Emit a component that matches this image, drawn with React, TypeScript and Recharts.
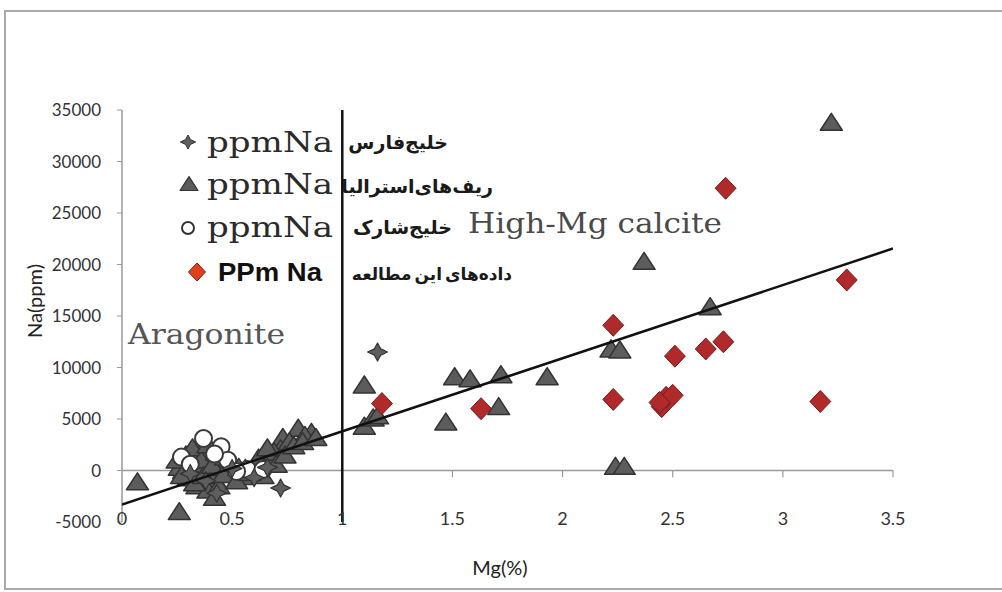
import React from 'react'
import { ScatterChart, Scatter, XAxis, YAxis, ReferenceLine } from 'recharts'

// Persian Gulf (خلیج فارس)
const gulfMg = [1.16, 0.72, 0.43, 0.38, 0.6, 0.66, 0.5, 0.31]
const gulfNa = [11500, -1700, -2200, -1000, -700, 300, 200, -300]

// Australian reefs (ریف های استرالیا)
const reefMg = [
  3.22, 2.37, 2.67, 2.22, 2.26, 2.24, 2.28, 1.93, 1.72, 1.71, 1.51, 1.58, 1.47,
  1.1, 1.1, 1.14, 1.16, 0.07, 0.26, 0.8, 0.86, 0.73, 0.72, 0.67, 0.63, 0.76, 0.83,
  0.28, 0.3, 0.33, 0.35, 0.38, 0.4, 0.42, 0.45, 0.3, 0.26, 0.36, 0.48, 0.5, 0.55,
  0.6, 0.64, 0.68, 0.34, 0.39, 0.44,
  0.25, 0.27, 0.29, 0.32, 0.33, 0.36, 0.37, 0.39, 0.41, 0.43, 0.44, 0.46, 0.47, 0.49,
  0.52, 0.53, 0.56, 0.58, 0.62, 0.69, 0.7, 0.74, 0.78, 0.82, 0.88, 0.66, 0.42,
]
const reefNa = [
  33800, 20300, 15900, 11800, 11700, 400, 400, 9100, 9300, 6200, 9100, 8900, 4700,
  8300, 4300, 5100, 5300, -1100, -4000, 4100, 3700, 3200, 2100, 1300, 800, 2800, 3400,
  0, 500, 1000, -300, 600, 1500, -800, 300, -700, 300, 2000, -300, 400, -600,
  500, -500, 700, -1500, -1900, 1200,
  1000, -500, 1500, 2200, -1200, 1000, -500, 2500, 500, 1800, -1500, -400, 1300, 700,
  -1000, 300, 200, -200, 1200, 1800, 600, 1500, 2400, 2800, 3200, 2200, -2600,
]

// Shark Bay (خلیج شارک)
const sharkMg = [0.37, 0.27, 0.45, 0.48, 0.57, 0.64, 0.31, 0.42, 0.52]
const sharkNa = [3100, 1300, 2300, 1000, 100, 100, 600, 1600, -100]

// this study (داده های این مطالعه)
const studyMg = [2.74, 3.29, 2.23, 2.51, 2.65, 2.73, 2.23, 2.45, 2.47, 2.5, 2.44, 3.17, 1.18, 1.63]
const studyNa = [27400, 18500, 14100, 11100, 11800, 12500, 6900, 6200, 7100, 7300, 6600, 6700, 6500, 6000]

// linear trend
const trendMg = [0, 3.5]
const trendNa = [-3300, 21550]

const xTicks = [0, 0.5, 1, 1.5, 2, 2.5, 3, 3.5]
const yTicks = [-5000, 0, 5000, 10000, 15000, 20000, 25000, 30000, 35000]

const toPoints = (xs: number[], ys: number[]) => xs.map((x, i) => ({ x, y: ys[i] }))

const tickFont = 'Lato, "DejaVu Sans Condensed", sans-serif'
const serif = '"DejaVu Serif", "Liberation Serif", serif'
const persian = '"DejaVu Sans", "Noto Sans", sans-serif'

const triPath = (cx: number, cy: number, s: number) =>
  `M${cx},${cy - s * 0.82} L${cx + s},${cy + s * 0.72} L${cx - s},${cy + s * 0.72} Z`
const starPath = (cx: number, cy: number, s: number) =>
  `M${cx},${cy - s} L${cx + s * 0.35},${cy - s * 0.35} L${cx + s * 1.1},${cy} L${cx + s * 0.35},${cy + s * 0.35} L${cx},${cy + s} L${cx - s * 0.35},${cy + s * 0.35} L${cx - s * 1.1},${cy} L${cx - s * 0.35},${cy - s * 0.35} Z`
const diamondPath = (cx: number, cy: number, s: number) =>
  `M${cx},${cy - s} L${cx + s * 0.95},${cy} L${cx},${cy + s} L${cx - s * 0.95},${cy} Z`

const Triangle = (p: any) => (
  <path d={triPath(p.cx, p.cy, 11)} fill="#5c5c5c" stroke="#333" strokeWidth={1.5} strokeLinejoin="round" />
)
const Star = (p: any) => (
  <path d={starPath(p.cx, p.cy, 9)} fill="#5e5e5e" stroke="#333" strokeWidth={1.2} strokeLinejoin="round" />
)
const Ring = (p: any) => <circle cx={p.cx} cy={p.cy} r={8.5} fill="#fff" stroke="#3a3a3a" strokeWidth={2} />
const Diamond = (p: any) => (
  <path d={diamondPath(p.cx, p.cy, 11)} fill="#b0292b" stroke="#7a1b1b" strokeWidth={1} />
)

const XTick = (p: any) => (
  <text x={p.x} y={p.y - 4} textAnchor="middle" dominantBaseline="central" fontSize={18} fill="#333" fontFamily={tickFont}>
    {p.payload.value}
  </text>
)

const App = () => {
  return (
    <div style={{ position: 'absolute', left: 0, top: 0, width: 1002, height: 592, overflow: 'hidden', background: '#fff' }}>
      <div style={{ position: 'absolute', left: 4, top: 10, width: 1100, height: 576, border: '2px solid #a9a9a9' }} />
      <div style={{ position: 'absolute', left: 0, top: 0 }}>
        <ScatterChart width={1002} height={592} margin={{ top: 110, right: 109, bottom: 40, left: 0 }}>
          <XAxis
            type="number"
            dataKey="x"
            domain={[0, 3.5]}
            ticks={xTicks}
            interval={0}
            allowDataOverflow
            axisLine={false}
            tickLine={false}
            tickSize={0}
            tickMargin={0}
            height={30}
            tick={<XTick />}
          />
          <YAxis
            type="number"
            dataKey="y"
            domain={[-5000, 35000]}
            ticks={yTicks}
            interval={0}
            allowDataOverflow
            width={122}
            tickSize={5}
            tickMargin={16}
            axisLine={{ stroke: '#9a9a9a', strokeWidth: 1.5 }}
            tickLine={{ stroke: '#9a9a9a' }}
            tick={{ fontSize: 17, fill: '#333', fontFamily: tickFont }}
          />
          <Scatter data={toPoints(reefMg, reefNa)} shape={Triangle} isAnimationActive={false} />
          <Scatter data={toPoints(sharkMg, sharkNa)} shape={Ring} isAnimationActive={false} />
          <Scatter data={toPoints(gulfMg, gulfNa)} shape={Star} isAnimationActive={false} />
          <ReferenceLine y={0} stroke="#9a9a9a" strokeWidth={1.5} />
          {xTicks.slice(1).map((t) => (
            <ReferenceLine key={t} segment={[{ x: t, y: 0 }, { x: t, y: -650 }]} stroke="#9a9a9a" strokeWidth={1.2} />
          ))}
          <Scatter
            data={toPoints(trendMg, trendNa)}
            line={{ stroke: '#111', strokeWidth: 2.5 }}
            shape={() => <g />}
            isAnimationActive={false}
          />
          <Scatter data={toPoints(studyMg, studyNa)} shape={Diamond} isAnimationActive={false} />
          <ReferenceLine segment={[{ x: 1, y: 35000 }, { x: 1, y: -5000 }]} stroke="#111" strokeWidth={2.5} />
        </ScatterChart>
      </div>
      <svg width={1002} height={592} style={{ position: 'absolute', left: 0, top: 0, pointerEvents: 'none' }}>
        {/* axis titles */}
        <text x={0} y={0} transform="translate(42,301) rotate(-90)" textAnchor="middle" fontSize={20} fill="#222" fontFamily={tickFont}>
          Na(ppm)
        </text>
        <text x={500} y={575} textAnchor="middle" fontSize={20} fill="#222" fontFamily={tickFont}>
          Mg(%)
        </text>

        {/* annotations */}
        <text x={128} y={344} fontSize={28} fill="#555" fontFamily={serif} textLength={157} lengthAdjust="spacingAndGlyphs">
          Aragonite
        </text>
        <text x={468} y={233} fontSize={28} fill="#4a4a4a" fontFamily={serif} textLength={254} lengthAdjust="spacingAndGlyphs">
          High-Mg calcite
        </text>

        {/* legend */}
        <path d={starPath(188, 142, 7)} fill="#5e5e5e" stroke="#333" strokeWidth={1} />
        <path d={triPath(189, 184, 9)} fill="#5c5c5c" stroke="#333" strokeWidth={1.2} strokeLinejoin="round" />
        <circle cx={188} cy={228} r={6} fill="#fff" stroke="#333" strokeWidth={2} />
        <path d={diamondPath(197, 272, 9)} fill="#e2401c" stroke="#7a2410" strokeWidth={1} />
        {[152, 194, 237].map((y) => (
          <text key={y} x={207} y={y} fontSize={27} fill="#2a2a2a" fontFamily={serif} textLength={126} lengthAdjust="spacingAndGlyphs">
            ppmNa
          </text>
        ))}
        <text x={218} y={281} fontSize={25} fontWeight="bold" fill="#111" fontFamily='"Liberation Sans", Arial, sans-serif' textLength={104} lengthAdjust="spacingAndGlyphs">
          PPm Na
        </text>
        <g fontFamily={persian} fontWeight="bold" fontSize={19} fill="#1a1a1a" textAnchor="start" direction="rtl">
          <text x={448} y={149}>خلیج‌فارس</text>
          <text x={493} y={193}>ریف‌های‌استرالیا</text>
          <text x={452} y={234}>خلیج‌شارک</text>
          <text x={512} y={280} fontSize={17} wordSpacing={-3}>داده‌های این مطالعه</text>
        </g>
      </svg>
    </div>
  )
}

export default App
